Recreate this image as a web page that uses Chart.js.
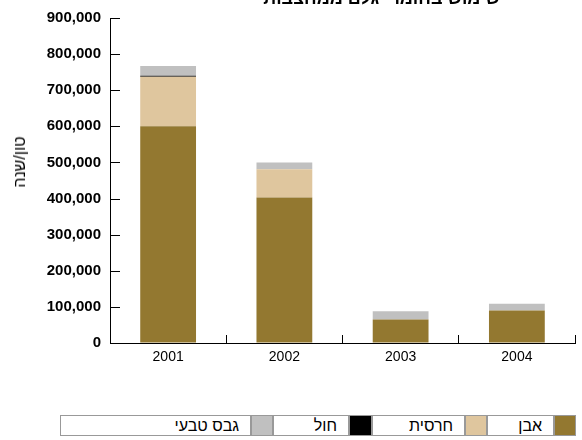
<!DOCTYPE html>
<html>
<head>
<meta charset="utf-8">
<script src="https://cdn.jsdelivr.net/npm/chart.js@4"></script>
<style>
  body { margin: 0; background: #fff; font-family: "Liberation Sans", Arial, sans-serif; }
  #wrap { position: relative; width: 582px; height: 440px; overflow: hidden; }
  #title { position: absolute; top: -12px; left: 0; width: 500px; text-align: right; direction: rtl;
           font: bold 18px "Liberation Sans", Arial, sans-serif; color: #000; }
  #ytitle { position: absolute; left: 20px; top: 162px; transform: translate(-50%, -50%) rotate(-90deg);
            font: 16px "Liberation Sans", Arial, sans-serif; white-space: nowrap; direction: rtl; }
  .cell { position: absolute; top: 415px; height: 21px; border: 1px solid #999; box-sizing: border-box;
          font: 16px "Liberation Sans", Arial, sans-serif; direction: rtl; text-align: right;
          padding-right: 11px; line-height: 19px; background: #fff; }
</style>
</head>
<body>
<div id="wrap">
  <canvas id="barChart" width="582" height="440"></canvas>
  <div id="title">שימוש בחומרי גלם ממחצבות</div>
  <div id="ytitle">טון/שנה</div>
</div>
<script>
const years = ['2001', '2002', '2003', '2004'];
const stone = [600000, 403000, 65000, 90000];   // אבן
const clay = [137000, 78000, 0, 0];             // חרסית
const sand = [3000, 0, 0, 0];                   // חול
const gypsum = [27000, 19000, 23000, 19000];    // גבס טבעי

const names = ['אבן', 'חרסית', 'חול', 'גבס טבעי'];
const colors = ['#937830', '#dfc69e', '#000000', '#c0c0c0'];

// short tick marks pointing into the plot, like the original
const innerTicks = {
  id: 'innerTicks',
  afterDraw(chart) {
    const y = chart.scales.y;
    const ctx = chart.ctx;
    ctx.save();
    ctx.strokeStyle = '#000';
    ctx.lineWidth = 1;
    y.ticks.forEach(t => {
      const py = Math.round(y.getPixelForValue(t.value)) + 0.5;
      ctx.beginPath();
      ctx.moveTo(y.right, py);
      ctx.lineTo(y.right + 10, py);
      ctx.stroke();
    });
    ctx.restore();
  }
};

const barChart = document.getElementById('barChart');

new Chart(barChart, {
  type: 'bar',
  data: {
    labels: years,
    datasets: [stone, clay, sand, gypsum].map((d, i) => ({
      label: names[i],
      data: d,
      backgroundColor: colors[i],
      borderWidth: 0,
      barPercentage: 0.48,
      categoryPercentage: 1
    }))
  },
  options: {
    responsive: false,
    animation: false,
    locale: 'en-US',
    layout: { padding: { top: 10, right: 7, left: 0, bottom: 0 } },
    plugins: { legend: { display: false }, tooltip: { enabled: false } },
    scales: {
      x: {
        stacked: true,
        grid: { offset: true, drawOnChartArea: false, tickLength: -8, color: '#000', lineWidth: 1 },
        border: { color: '#000', width: 1 },
        ticks: { color: '#000', padding: 14, font: { family: 'Liberation Sans', size: 14 } },
        afterFit: s => { s.height = 97; }
      },
      y: {
        stacked: true,
        min: 0,
        max: 900000,
        grid: { drawOnChartArea: false, drawTicks: false },
        border: { color: '#000', width: 1 },
        ticks: { stepSize: 100000, color: '#000', padding: 9, font: { family: 'Liberation Sans', size: 15, weight: 'bold' } },
        afterFit: s => { s.width = 110; }
      }
    }
  },
  plugins: [innerTicks]
});

// legend laid out right-to-left like the original
const wrap = document.getElementById('wrap');
const textCells = [[487, 67], [372, 93], [273, 76], [60, 191]];
const boxCells = [[554, 22], [465, 22], [349, 23], [251, 22]];
names.forEach((n, i) => {
  const box = document.createElement('div');
  box.className = 'cell';
  box.style.left = boxCells[i][0] + 'px';
  box.style.width = boxCells[i][1] + 'px';
  box.style.background = colors[i];
  box.style.padding = '0';
  wrap.appendChild(box);
  const t = document.createElement('div');
  t.className = 'cell';
  t.style.left = textCells[i][0] + 'px';
  t.style.width = textCells[i][1] + 'px';
  t.textContent = n;
  wrap.appendChild(t);
});
</script>
</body>
</html>
